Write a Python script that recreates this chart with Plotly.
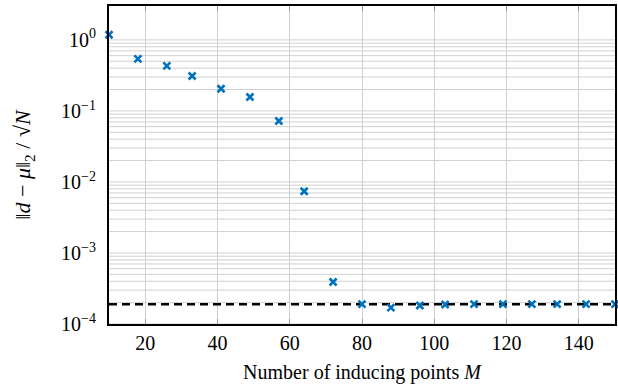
import plotly.graph_objects as go

# Data
M_points = [10, 18, 26, 33, 41, 49, 57, 64, 72, 80, 88, 96, 103, 111, 119, 127, 134, 142, 150]
errors = [1.18, 0.54, 0.43, 0.31, 0.205, 0.157, 0.072, 0.0074, 3.9e-4, 1.9e-4, 1.7e-4,
          1.82e-4, 1.88e-4, 1.9e-4, 1.9e-4, 1.9e-4, 1.9e-4, 1.9e-4, 1.9e-4]
baseline = 1.9e-4
x_range = [10, 150]
y_range = [1e-4, 3.0]
x_ticks = [20, 40, 60, 80, 100, 120, 140]
y_tick_vals = [1e-4, 1e-3, 1e-2, 1e-1, 1e0]
y_tick_text = ["10<sup>−4</sup>", "10<sup>−3</sup>", "10<sup>−2</sup>", "10<sup>−1</sup>", "10<sup>0</sup>"]

BLUE = "#0072BD"
FONT = "Liberation Serif"

fig = go.Figure()

# Minor/major horizontal grid lines (1..9 x decade)
grid_vals = [m * 10.0 ** e for e in range(-4, 0) for m in range(1, 10)] + [1.0]
for gv in grid_vals:
    fig.add_shape(type="line", xref="paper", x0=0, x1=1, yref="y", y0=gv, y1=gv,
                  line=dict(color="#d0d0d0", width=1), layer="below")

fig.add_trace(go.Scatter(
    x=x_range, y=[baseline, baseline], mode="lines",
    line=dict(color="black", width=2.4, dash="8px,5px"), showlegend=False))

fig.add_trace(go.Scatter(
    x=M_points, y=errors, mode="markers",
    marker=dict(symbol="x-thin", size=7, color=BLUE, line=dict(color=BLUE, width=2.6)),
    showlegend=False, cliponaxis=False))

fig.update_layout(
    width=618, height=388,
    margin=dict(l=109, r=1, t=6, b=64),
    paper_bgcolor="white", plot_bgcolor="white",
    font=dict(family=FONT, size=20, color="black"),
)
fig.update_xaxes(
    range=x_range, tickvals=x_ticks, showgrid=True, gridcolor="#d0d0d0", gridwidth=1,
    showline=True, linecolor="black", linewidth=2, mirror="ticks",
    ticks="inside", ticklen=5, tickcolor="#999999", zeroline=False,
    title=dict(text="Number of inducing points <i>M</i>", standoff=12, font=dict(size=20)),
    tickfont=dict(size=20),
)
fig.update_yaxes(
    type="log", range=[-4, 0.477], tickvals=y_tick_vals, ticktext=y_tick_text,
    showgrid=False, showline=True, linecolor="black", linewidth=2, mirror=True,
    ticks="", zeroline=False, ticklabelstandoff=7,
    title=dict(text="‖<i>d</i> − <i>μ</i>‖<sub>2</sub> / √<i>N</i>", standoff=24, font=dict(size=22)),
    tickfont=dict(size=20),
)

fig.write_html("out.html")
